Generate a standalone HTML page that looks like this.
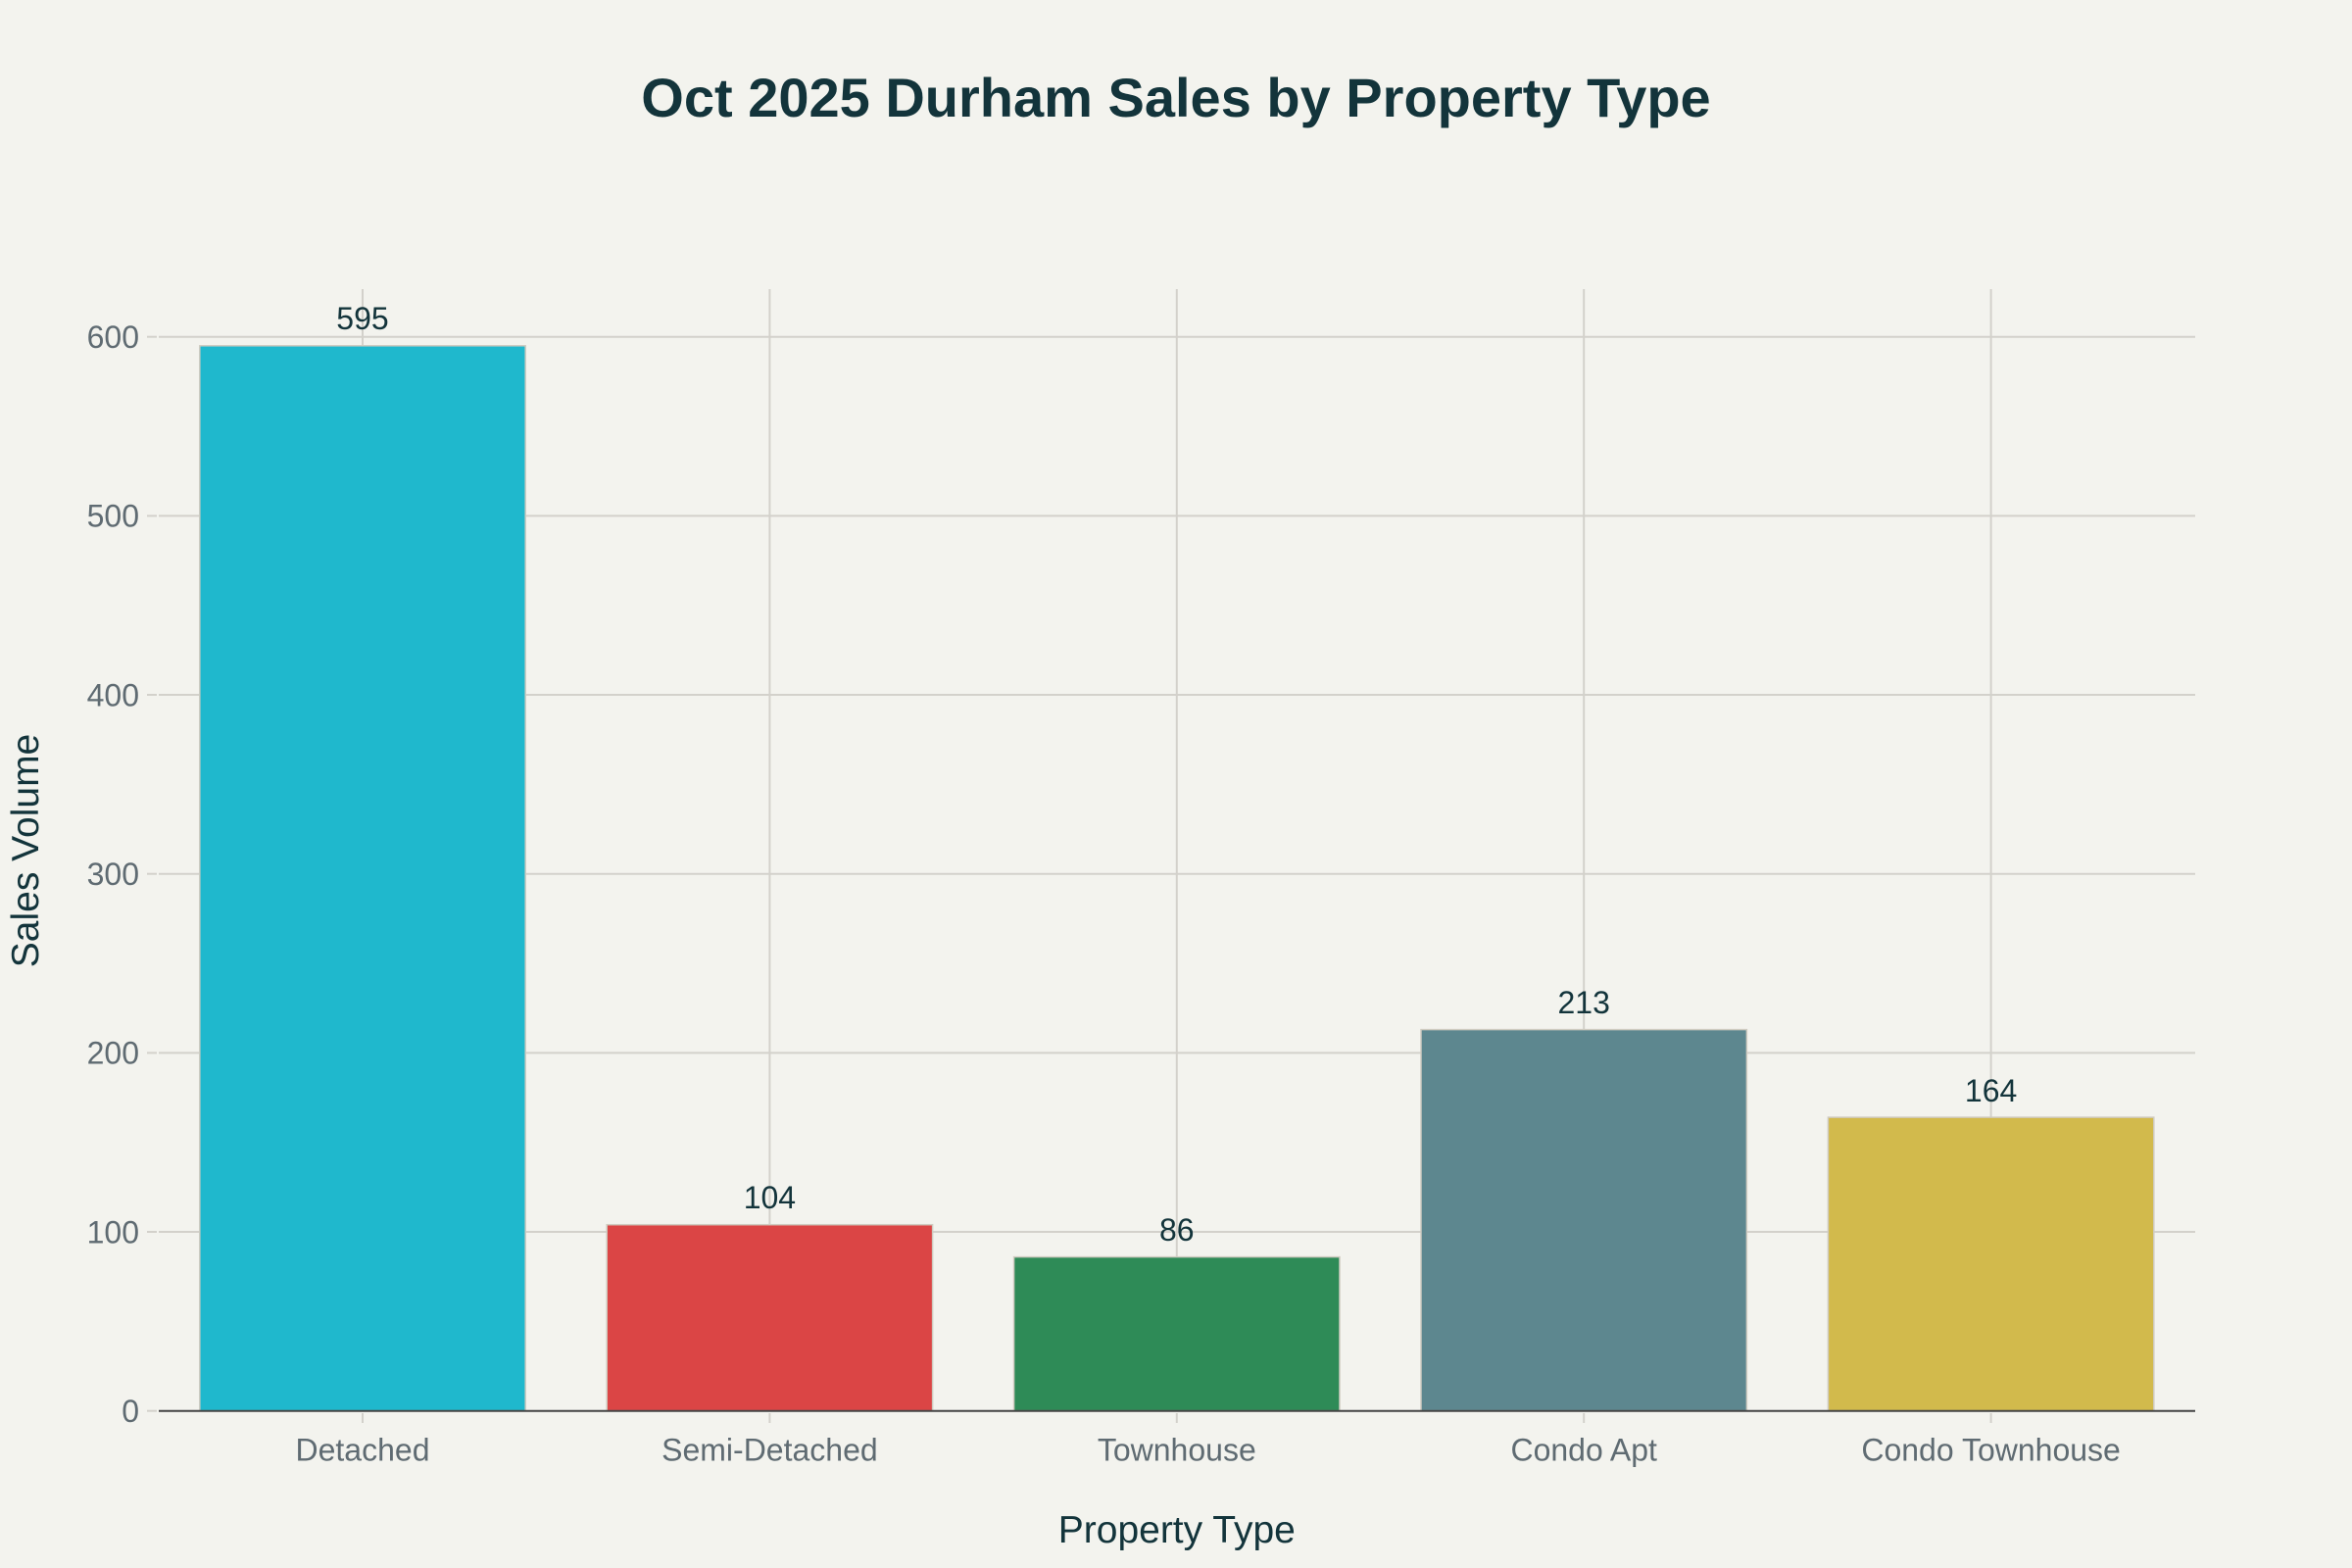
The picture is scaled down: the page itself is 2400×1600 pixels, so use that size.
<!DOCTYPE html>
<html>
<head>
<meta charset="utf-8">
<style>
html,body{margin:0;padding:0;background:#F3F3EE;}
svg{display:block;}
text{font-family:"Liberation Sans",Arial,sans-serif;}
</style>
</head>
<body>
<svg width="2400" height="1600" viewBox="0 0 2400 1600" xmlns="http://www.w3.org/2000/svg">
<rect x="0" y="0" width="2400" height="1600" fill="#F3F3EE"/>

<!-- title -->
<text x="1200" y="119" text-anchor="middle" font-size="56" font-weight="bold" fill="#13343B">Oct 2025 Durham Sales by Property Type</text>

<!-- horizontal gridlines -->
<g stroke="#D3D1CB" stroke-width="2">
<line x1="162" y1="1257.0" x2="2240" y2="1257.0"/>
<line x1="162" y1="1074.4" x2="2240" y2="1074.4"/>
<line x1="162" y1="891.7" x2="2240" y2="891.7"/>
<line x1="162" y1="709.0" x2="2240" y2="709.0"/>
<line x1="162" y1="526.4" x2="2240" y2="526.4"/>
<line x1="162" y1="343.7" x2="2240" y2="343.7"/>
<!-- vertical gridlines -->
<line x1="370" y1="295" x2="370" y2="1440"/>
<line x1="785.4" y1="295" x2="785.4" y2="1440"/>
<line x1="1200.8" y1="295" x2="1200.8" y2="1440"/>
<line x1="1616.2" y1="295" x2="1616.2" y2="1440"/>
<line x1="2031.6" y1="295" x2="2031.6" y2="1440"/>
<!-- y ticks -->
<line x1="150" y1="1439.7" x2="160" y2="1439.7"/>
<line x1="150" y1="1257.0" x2="160" y2="1257.0"/>
<line x1="150" y1="1074.4" x2="160" y2="1074.4"/>
<line x1="150" y1="891.7" x2="160" y2="891.7"/>
<line x1="150" y1="709.0" x2="160" y2="709.0"/>
<line x1="150" y1="526.4" x2="160" y2="526.4"/>
<line x1="150" y1="343.7" x2="160" y2="343.7"/>
<!-- x ticks -->
<line x1="370" y1="1442" x2="370" y2="1452"/>
<line x1="785.4" y1="1442" x2="785.4" y2="1452"/>
<line x1="1200.8" y1="1442" x2="1200.8" y2="1452"/>
<line x1="1616.2" y1="1442" x2="1616.2" y2="1452"/>
<line x1="2031.6" y1="1442" x2="2031.6" y2="1452"/>
</g>

<!-- bars -->
<g stroke="#CFCBC0" stroke-width="1.5">
<rect x="203.8" y="352.8" width="332.4" height="1086.9" fill="#1FB8CD"/>
<rect x="619.2" y="1249.7" width="332.4" height="190.0" fill="#DB4545"/>
<rect x="1034.6" y="1282.6" width="332.4" height="157.1" fill="#2E8B57"/>
<rect x="1450.0" y="1050.6" width="332.4" height="389.1" fill="#5D878F"/>
<rect x="1865.4" y="1140.1" width="332.4" height="299.6" fill="#D2BA4C"/>
</g>

<!-- zero line -->
<line x1="162" y1="1439.7" x2="2240" y2="1439.7" stroke="#444444" stroke-width="2"/>

<!-- value labels -->
<g font-size="32" fill="#13343B" text-anchor="middle">
<text x="370" y="336">595</text>
<text x="785.4" y="1233">104</text>
<text x="1200.8" y="1266">86</text>
<text x="1616.2" y="1034">213</text>
<text x="2031.6" y="1124">164</text>
</g>

<!-- y tick labels -->
<g font-size="32" fill="#5F6B72" text-anchor="end">
<text x="142" y="1451">0</text>
<text x="142" y="1268.3">100</text>
<text x="142" y="1085.7">200</text>
<text x="142" y="903">300</text>
<text x="142" y="720.3">400</text>
<text x="142" y="537.7">500</text>
<text x="142" y="355">600</text>
</g>

<!-- x tick labels -->
<g font-size="32" fill="#5F6B72" text-anchor="middle">
<text x="370" y="1490.7">Detached</text>
<text x="785.4" y="1490.7">Semi-Detached</text>
<text x="1200.8" y="1490.7">Townhouse</text>
<text x="1616.2" y="1490.7">Condo Apt</text>
<text x="2031.6" y="1490.7">Condo Townhouse</text>
</g>

<!-- axis titles -->
<text x="1200.8" y="1574" text-anchor="middle" font-size="39" fill="#13343B">Property Type</text>
<text transform="translate(39,868) rotate(-90)" text-anchor="middle" font-size="39" fill="#13343B">Sales Volume</text>
</svg>
</body>
</html>
